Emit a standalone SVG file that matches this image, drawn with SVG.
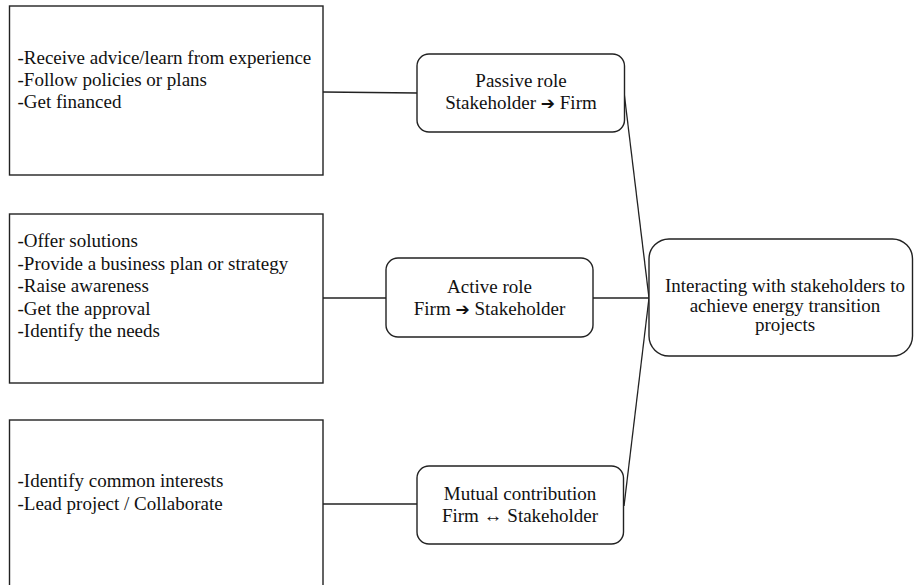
<svg xmlns="http://www.w3.org/2000/svg" width="914" height="585" viewBox="0 0 914 585">
<style>
.box{fill:#fff;stroke:#222;stroke-width:1.4}
.ln{fill:none;stroke:#222;stroke-width:1.3}
.t{font-family:'Liberation Serif','DejaVu Serif',serif;font-size:19px;fill:#111}
.c{text-anchor:middle}
.ar{font-family:'DejaVu Sans',sans-serif;font-size:17px;font-weight:bold}
</style>
<rect width="914" height="585" fill="#fff"/>
<g id="connectors">
<line class="ln" x1="323" y1="92" x2="417" y2="93"/>
<line class="ln" x1="323" y1="298" x2="386" y2="298"/>
<line class="ln" x1="323" y1="504" x2="417" y2="504"/>
<line class="ln" x1="593" y1="298" x2="649" y2="298"/>
<line class="ln" x1="624" y1="92" x2="649" y2="298"/>
<line class="ln" x1="624" y1="506" x2="649" y2="298"/>
</g>
<g id="list1" class="t">
<rect class="box" x="9.5" y="6" width="313.5" height="169"/>
<text x="17.5" y="64">-Receive advice/learn from experience</text>
<text x="17.5" y="86">-Follow policies or plans</text>
<text x="17.5" y="108">-Get financed</text>
</g>
<g id="list2" class="t">
<rect class="box" x="9.5" y="214" width="313.5" height="169"/>
<text x="17.5" y="247">-Offer solutions</text>
<text x="17.5" y="269.5">-Provide a business plan or strategy</text>
<text x="17.5" y="292">-Raise awareness</text>
<text x="17.5" y="314.5">-Get the approval</text>
<text x="17.5" y="337">-Identify the needs</text>
</g>
<g id="list3" class="t">
<rect class="box" x="9.5" y="420" width="313.5" height="180"/>
<text x="17.5" y="487">-Identify common interests</text>
<text x="17.5" y="510">-Lead project / Collaborate</text>
</g>
<g id="passive" class="t">
<rect class="box" x="417" y="54" width="207.5" height="78" rx="12"/>
<text class="c" x="521" y="87">Passive role</text>
<text class="c" x="521" y="109">Stakeholder <tspan class="ar">➔</tspan> Firm</text>
</g>
<g id="active" class="t">
<rect class="box" x="386" y="258" width="207" height="79" rx="12"/>
<text class="c" x="489.5" y="293">Active role</text>
<text class="c" x="489.5" y="315">Firm <tspan class="ar">➔</tspan> Stakeholder</text>
</g>
<g id="mutual" class="t">
<rect class="box" x="417" y="466" width="206.5" height="78" rx="12"/>
<text class="c" x="520" y="500">Mutual contribution</text>
<text class="c" x="520" y="522">Firm ↔ Stakeholder</text>
</g>
<g id="main" class="t">
<rect class="box" x="649" y="239" width="263.5" height="117" rx="20"/>
<text class="c" x="785" y="292">Interacting with stakeholders to</text>
<text class="c" x="785" y="312">achieve energy transition</text>
<text class="c" x="785" y="331">projects</text>
</g>
</svg>
